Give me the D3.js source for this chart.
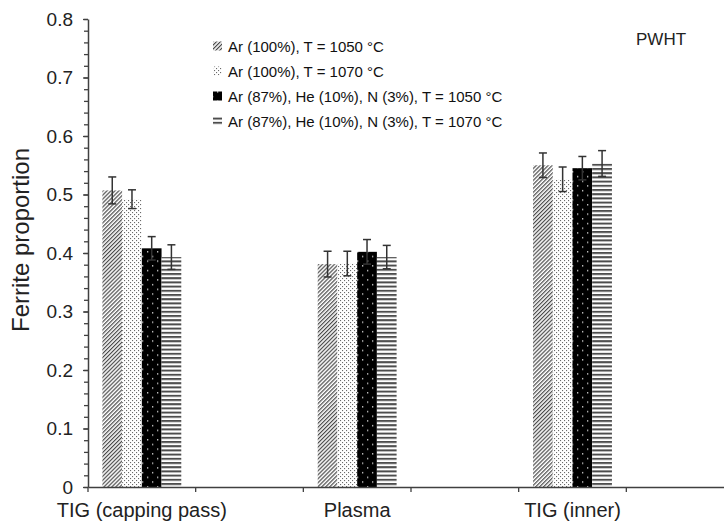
<!DOCTYPE html>
<html><head><meta charset="utf-8">
<script src="https://cdn.jsdelivr.net/npm/d3@7"></script>
<style>body{margin:0;background:#fff}svg{display:block}text{font-family:"Liberation Sans",Arial,sans-serif}</style>
</head><body><svg id="c" width="724" height="523"></svg>
<script>
const categories = ["TIG (capping pass)", "Plasma", "TIG (inner)"];
const seriesNames = ["Ar (100%), T = 1050 °C", "Ar (100%), T = 1070 °C", "Ar (87%), He (10%), N (3%), T = 1050 °C", "Ar (87%), He (10%), N (3%), T = 1070 °C"];
const values = [
  [0.507, 0.381, 0.550],
  [0.492, 0.382, 0.526],
  [0.408, 0.402, 0.545],
  [0.393, 0.393, 0.553]
];
const errors = [
  [0.023, 0.022, 0.021],
  [0.016, 0.021, 0.021],
  [0.020, 0.021, 0.020],
  [0.021, 0.020, 0.022]
];
const yTicks = [0, 0.1, 0.2, 0.3, 0.4, 0.5, 0.6, 0.7, 0.8];
const slots = [0, 1, 2, 3, 4, 5]; // category axis slots; categories occupy slots 0,2,4

const svg = d3.select("#c");
const axisColor = "#404040";
const x = d3.scaleBand().domain(slots).range([88, 734]).paddingInner(0).paddingOuter(0);
const y = d3.scaleLinear().domain([0, 0.8]).range([487, 19]);
const xs = d3.scaleBand().domain(d3.range(seriesNames.length)).range([0, x.bandwidth()]).paddingOuter(0.73).paddingInner(0);

// patterns
const defs = svg.append("defs");
const p0 = defs.append("pattern").attr("id", "pat0").attr("patternUnits", "userSpaceOnUse")
  .attr("width", 2.8).attr("height", 2.8).attr("patternTransform", "rotate(45)");
p0.append("rect").attr("width", 2.8).attr("height", 2.8).attr("fill", "#fff");
p0.append("rect").attr("x", 0).attr("width", 1.2).attr("height", 2.8).attr("fill", "#4a4a4a");
const p1 = defs.append("pattern").attr("id", "pat1").attr("patternUnits", "userSpaceOnUse").attr("width", 4).attr("height", 4);
p1.append("rect").attr("width", 4).attr("height", 4).attr("fill", "#fff");
p1.append("rect").attr("x", 0).attr("y", 0).attr("width", 1.1).attr("height", 1.1).attr("fill", "#6a6a6a");
p1.append("rect").attr("x", 2).attr("y", 2).attr("width", 1.1).attr("height", 1.1).attr("fill", "#6a6a6a");
const p2 = defs.append("pattern").attr("id", "pat2").attr("patternUnits", "userSpaceOnUse").attr("width", 10).attr("height", 9.4);
p2.append("rect").attr("width", 10).attr("height", 9.4).attr("fill", "#000");
p2.append("rect").attr("x", 2).attr("y", 2).attr("width", 1.3).attr("height", 1.3).attr("fill", "#ddd");
p2.append("rect").attr("x", 7).attr("y", 6.7).attr("width", 1.3).attr("height", 1.3).attr("fill", "#ddd");
const p3 = defs.append("pattern").attr("id", "pat3").attr("patternUnits", "userSpaceOnUse").attr("width", 4).attr("height", 4.2);
p3.append("rect").attr("width", 4).attr("height", 4.2).attr("fill", "#fff");
p3.append("rect").attr("y", 0).attr("width", 4).attr("height", 2).attr("fill", "#4d4d4d");

// bars
const g = svg.append("g");
seriesNames.forEach((s, si) => {
  categories.forEach((c, ci) => {
    const bx = x(slots[ci * 2]) + xs(si);
    g.append("rect").attr("x", bx).attr("y", y(values[si][ci]))
      .attr("width", xs.bandwidth()).attr("height", y(0) - y(values[si][ci]))
      .attr("fill", `url(#pat${si})`);
  });
});
// error bars
seriesNames.forEach((s, si) => {
  categories.forEach((c, ci) => {
    const cx = x(slots[ci * 2]) + xs(si) + xs.bandwidth() / 2;
    const v = values[si][ci], e = errors[si][ci];
    const eg = g.append("g").attr("stroke", "#333").attr("stroke-width", 1.5);
    eg.append("line").attr("x1", cx).attr("x2", cx).attr("y1", y(v + e)).attr("y2", y(v - e));
    eg.append("line").attr("x1", cx - 4).attr("x2", cx + 4).attr("y1", y(v + e)).attr("y2", y(v + e));
    eg.append("line").attr("x1", cx - 4).attr("x2", cx + 4).attr("y1", y(v - e)).attr("y2", y(v - e));
  });
});

// y axis minor ticks
const yMinor = svg.append("g").attr("transform", "translate(88,0)")
  .call(d3.axisLeft(y).tickValues(d3.range(0, 0.8001, 0.02)).tickSize(4).tickFormat(""));
yMinor.select(".domain").remove();
yMinor.selectAll("line").attr("stroke", axisColor).attr("stroke-width", 1.3);
// y axis major
const yAx = svg.append("g").attr("transform", "translate(88,0)")
  .call(d3.axisLeft(y).tickValues(yTicks).tickSize(5).tickSizeOuter(0).tickPadding(10)
    .tickFormat(d => d === 0 ? "0" : d3.format(".1f")(d)));
yAx.select(".domain").attr("stroke", axisColor).attr("stroke-width", 1.5);
yAx.selectAll("line").attr("stroke", axisColor).attr("stroke-width", 1.3);
yAx.selectAll("text").attr("font-size", 19).attr("fill", "#222").style("font-family", "'Liberation Sans',Arial,sans-serif");

// x axis
const xAx = svg.append("g").attr("transform", `translate(0,${y(0)})`)
  .call(d3.axisBottom(x).tickValues(slots).tickSize(5).tickSizeOuter(0).tickFormat(""));
xAx.select(".domain").attr("stroke", axisColor).attr("stroke-width", 1.5);
xAx.selectAll(".tick").attr("transform", d => `translate(${x(d)},0)`);
xAx.selectAll("line").attr("stroke", axisColor).attr("stroke-width", 1.3);
svg.append("g").selectAll("text").data(categories).join("text")
  .attr("x", (d, i) => x(slots[i * 2]) + x.bandwidth() / 2)
  .attr("y", 517).attr("text-anchor", "middle").attr("font-size", 20).attr("fill", "#222").text(d => d);

// y label
svg.append("text").attr("transform", "translate(29,240) rotate(-90)").attr("text-anchor", "middle")
  .attr("font-size", 24).attr("fill", "#222").text("Ferrite proportion");

// PWHT
svg.append("text").attr("x", 636).attr("y", 45).attr("font-size", 17).attr("fill", "#222").text("PWHT");

// legend
const lg = svg.append("g");
seriesNames.forEach((s, i) => {
  const cy = 46 + i * 25;
  lg.append("rect").attr("x", 213).attr("y", cy - 4.5).attr("width", 9).attr("height", 9).attr("fill", `url(#pat${i})`);
  lg.append("text").attr("x", 228).attr("y", cy + 5.5).attr("font-size", 15).attr("fill", "#111").text(s);
});
</script></body></html>
